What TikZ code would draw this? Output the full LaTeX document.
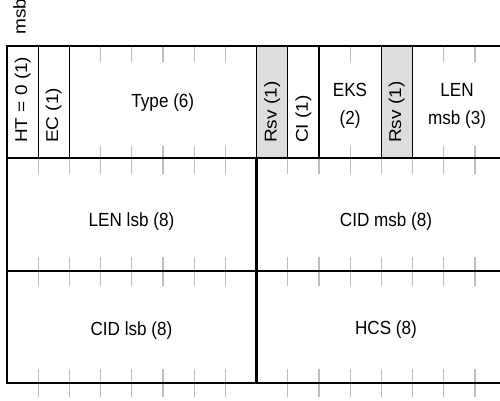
\documentclass[tikz,border=0pt]{standalone}
\usepackage{fontspec}
\setmainfont{Liberation Sans}
\usepackage{graphicx}
\definecolor{tickgray}{RGB}{190,190,190}
\definecolor{rsvgray}{RGB}{221,221,221}
\newcommand\hlbl[1]{\scalebox{0.9}[1]{#1}}
\newcommand\vlbl[1]{\scalebox{0.9}[1]{\rotatebox{90}{#1}}}
\begin{document}
\begin{tikzpicture}[x=1pt,y=-1pt,
  thickline/.style={line width=2.4pt, black},
  thinsep/.style={line width=1.2pt, black},
  tickmark/.style={line width=1.2pt, color=tickgray},
  lbl/.style={font=\fontsize{19}{22}\selectfont, inner sep=0pt, text=black},
  vl/.style={lbl, anchor=south},
  hl/.style={lbl, anchor=base}]
\useasboundingbox (0,0) rectangle (500,401);
\clip (0,0) rectangle (500,401);
\fill[white] (0,0) rectangle (500,401);
% reserved cells
\fill[rsvgray] ({7+31.2*8},46) rectangle ({7+31.2*9},158);
\fill[rsvgray] ({7+31.2*12},46) rectangle ({7+31.2*13},158);
% bit ticks
\foreach \k in {3,4,5,6,7,11,14,15}{
  \draw[tickmark] ({7+31.2*\k},46) -- ({7+31.2*\k},62);
  \draw[tickmark] ({7+31.2*\k},146) -- ({7+31.2*\k},158);
}
\foreach \k in {1,2,3,4,5,6,7,9,10,11,12,13,14,15}{
  \draw[tickmark] ({7+31.2*\k},158) -- ({7+31.2*\k},174);
  \draw[tickmark] ({7+31.2*\k},257) -- ({7+31.2*\k},286);
  \draw[tickmark] ({7+31.2*\k},369) -- ({7+31.2*\k},397);
}
% row 1 field separators
\foreach \k in {1,2,8,9,10,12,13}
  \draw[thinsep] ({7+31.2*\k},46) -- ({7+31.2*\k},158);
% divider rows 2-3
\draw[thickline] ({7+31.2*8},158) -- ({7+31.2*8},383);
% horizontal rules
\foreach \y in {46,158,271,383}
  \draw[thickline] (5.8,\y) -- (510,\y);
\draw[thickline] (7,46) -- (7,383);
% labels
\node[vl, font=\fontsize{19}{22}\selectfont] (msb) at (19.5,35) {\vlbl{msb}};
\node[vl] (ht) at (22.6,143) {\vlbl{HT = 0 (1)}};
\node[vl] (ec) at (53.8,143) {\vlbl{EC (1)}};
\node[hl] (type) at (162.8,107.7) {\hlbl{Type (6)}};
\node[vl] (rsva) at (272.2,143) {\vlbl{Rsv (1)}};
\node[vl] (ci) at (303.4,143) {\vlbl{CI (1)}};
\node[hl] (eks) at (350,96.5) {\hlbl{EKS}};
\node[hl] (eksn) at (350,124.5) {\hlbl{(2)}};
\node[vl] (rsvb) at (396.8,143) {\vlbl{Rsv (1)}};
\node[hl] (len) at (457,96.5) {\hlbl{LEN}};
\node[hl] (lenn) at (457,124.5) {\hlbl{msb (3)}};
\node[hl] (lenlsb) at (131.5,226.5) {\hlbl{LEN lsb (8)}};
\node[hl] (cidmsb) at (386,226) {\hlbl{CID msb (8)}};
\node[hl] (cidlsb) at (131.5,335) {\hlbl{CID lsb (8)}};
\node[hl] (hcs) at (386,334) {\hlbl{HCS (8)}};
\end{tikzpicture}
\end{document}
